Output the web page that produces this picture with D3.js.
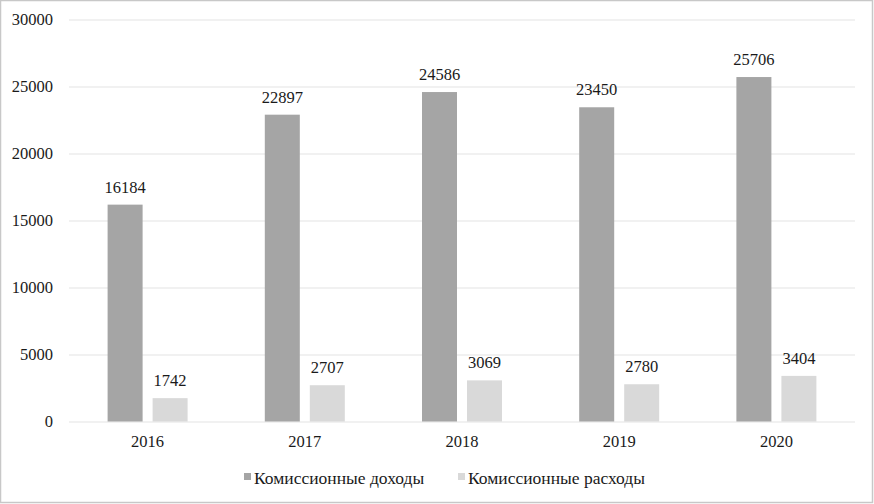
<!DOCTYPE html>
<html><head><meta charset="utf-8">
<script src="https://cdn.jsdelivr.net/npm/d3@7"></script>
<style>body{margin:0;background:#fff;} svg{display:block;} svg text{font-family:'Liberation Serif','Times New Roman',Times,'DejaVu Serif',serif !important;}</style>
</head><body>
<svg id="c" width="874" height="504"></svg>
<script>
const years = ["2016","2017","2018","2019","2020"];
const seriesNames = ["Комиссионные доходы","Комиссионные расходы"];
const income = [16184,22897,24586,23450,25706];
const expense = [1742,2707,3069,2780,3404];
const yTicks = [0,5000,10000,15000,20000,25000,30000];
const colors = ["#a5a5a5","#d9d9d9"];

const svg = d3.select("#c");
svg.append("rect").attr("x",0.5).attr("y",0.5).attr("width",872).attr("height",502)
  .attr("fill","#fff").attr("stroke","#c8c8c8").attr("stroke-width",1.5);

const pLeft=69,pRight=855,pTop=19.5,pBottom=421.5;
const y = d3.scaleLinear().domain([0,30000]).range([pBottom,pTop]);
const p = 1-80/157.2;
const x0 = d3.scaleBand().domain(years).range([pLeft,pRight]).paddingInner(p).paddingOuter(p/2);
const x1 = d3.scaleBand().domain(seriesNames).range([0,x0.bandwidth()]).paddingInner(10/45);

const yAxis = d3.axisLeft(y).tickValues(yTicks).tickSize(-(pRight-pLeft)).tickPadding(16).tickFormat(d3.format("d"));
const gy = svg.append("g").attr("transform",`translate(${pLeft},0)`).call(yAxis);
gy.attr("font-family",null).attr("font-size",null);
gy.select(".domain").remove();
gy.selectAll(".tick line").attr("stroke","#e3e3e3").attr("stroke-width",1.2);
gy.selectAll(".tick text").style("font-size","16.5px").attr("fill","#1a1a1a");

const data = years.map((yr,i)=>({year:yr, vals:[income[i],expense[i]]}));
const g = svg.append("g");
const grp = g.selectAll("g.grp").data(data).join("g").attr("transform",d=>`translate(${x0(d.year)},0)`);
grp.selectAll("rect").data(d=>d.vals.map((v,j)=>({v,s:seriesNames[j],j})))
  .join("rect").attr("x",d=>x1(d.s)).attr("width",x1.bandwidth())
  .attr("y",d=>y(d.v)).attr("height",d=>y(0)-y(d.v)).attr("fill",d=>colors[d.j]);
grp.selectAll("text").data(d=>d.vals.map((v,j)=>({v,s:seriesNames[j],j})))
  .join("text").attr("x",d=>x1(d.s)+x1.bandwidth()/2).attr("y",d=>y(d.v)-12)
  .attr("text-anchor","middle").style("font-size","16.5px").attr("fill","#1a1a1a")
  .text(d=>d.v);

const xAxis = d3.axisBottom(x0).tickSize(0).tickPadding(14);
const gx = svg.append("g").attr("transform",`translate(0,${pBottom})`).call(xAxis);
gx.attr("font-family",null).attr("font-size",null);
gx.select(".domain").remove();
gx.selectAll(".tick text").style("font-size","16.5px").attr("fill","#1a1a1a");

const leg = svg.append("g").attr("transform","translate(0,484)");
const legX = [244,458];
seriesNames.forEach((s,i)=>{
  leg.append("rect").attr("x",legX[i]).attr("y",-11).attr("width",7).attr("height",7).attr("fill",colors[i]);
  leg.append("text").attr("x",legX[i]+10).attr("y",0).style("font-size","17.5px").attr("fill","#1a1a1a").text(s);
});
</script>
</body></html>
